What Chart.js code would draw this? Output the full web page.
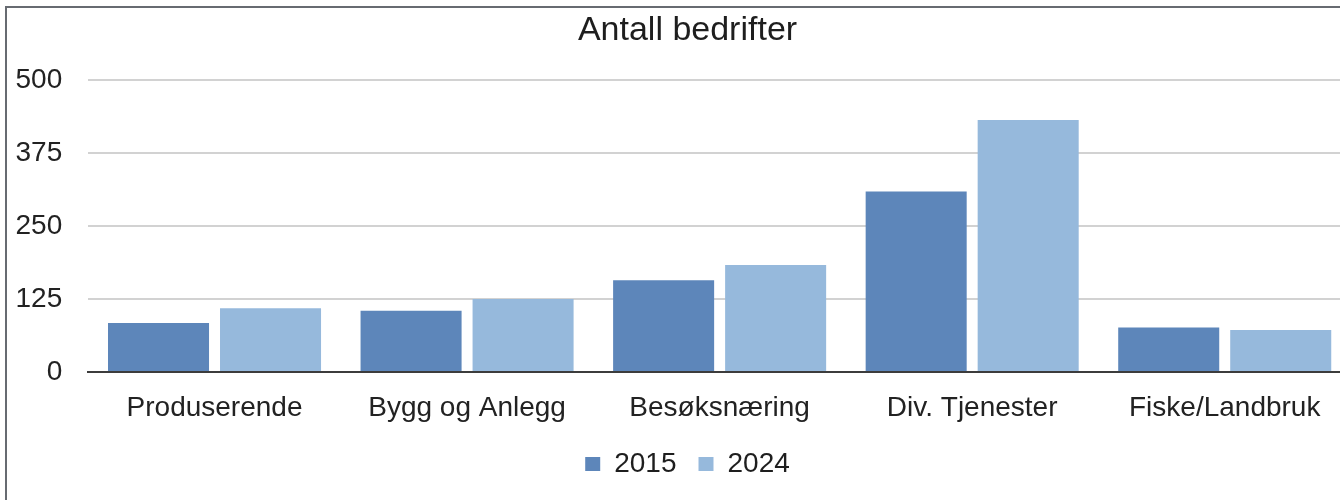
<!DOCTYPE html>
<html>
<head>
<meta charset="utf-8">
<script src="https://cdn.jsdelivr.net/npm/chart.js@4/dist/chart.umd.min.js"></script>
<style>
  html, body { margin: 0; padding: 0; background: #ffffff; overflow: hidden; width: 1340px; height: 500px; }
  #wrap { position: absolute; left: 0; top: 0; width: 1375px; height: 500px; }
  #frame { position: absolute; left: 5px; top: 6px; width: 2000px; height: 2000px;
           border-left: 2px solid #676b71; border-top: 2px solid #676b71; pointer-events: none; z-index: 2; }
  canvas { position: absolute; left: 0; top: 0; }
</style>
</head>
<body>
<div id="wrap">
  <canvas id="c" width="1375" height="500" style="width:1375px;height:500px"></canvas>
</div>
<div id="frame"></div>
<script>
const categories = ["Produserende", "Bygg og Anlegg", "Besøksnæring", "Div. Tjenester", "Fiske/Landbruk"];
const seriesNames = ["2015", "2024"];
const values2015 = [84, 105, 157, 309, 76];
const values2024 = [109, 125, 183, 431, 72];
const yTicks = [0, 125, 250, 375, 500];
const chartTitle = "Antall bedrifter";

const FONT = "'Liberation Sans', Arial, sans-serif";

new Chart(document.getElementById('c'), {
  type: 'bar',
  data: {
    labels: categories,
    datasets: [
      { label: seriesNames[0], data: values2015, backgroundColor: '#5d86ba', borderWidth: 0,
        categoryPercentage: 0.887, barPercentage: 0.902 },
      { label: seriesNames[1], data: values2024, backgroundColor: '#96b9dc', borderWidth: 0,
        categoryPercentage: 0.887, barPercentage: 0.902 }
    ]
  },
  options: {
    responsive: false,
    animation: false,
    devicePixelRatio: 1,
    layout: { padding: { left: 0, right: 0, top: 0, bottom: 12 } },
    plugins: {
      tooltip: { enabled: false },
      title: {
        display: true,
        text: chartTitle,
        color: '#1e1e1e',
        font: { family: FONT, size: 34, weight: 'normal' },
        padding: { top: 10, bottom: 29 }
      },
      legend: {
        display: true,
        position: 'bottom',
        labels: {
          color: '#1e1e1e',
          font: { family: FONT, size: 28 },
          boxWidth: 15,
          boxHeight: 14,
          padding: 22
        }
      }
    },
    scales: {
      x: {
        afterFit: (scale) => { scale.height = 56; },
        grid: { display: false, drawTicks: false },
        border: { display: true, color: '#3c3c3c', width: 2 },
        ticks: { color: '#222222', font: { family: FONT, size: 28 }, padding: 19, maxRotation: 0, autoSkip: false }
      },
      y: {
        min: 0,
        max: 500,
        afterFit: (scale) => { scale.width = 88.25; },
        afterBuildTicks: (scale) => { scale.ticks = yTicks.map(v => ({ value: v })); },
        grid: {
          drawTicks: false,
          lineWidth: 2,
          color: (ctx) => (ctx.tick && ctx.tick.value === 0) ? '#3c3c3c' : '#d2d2d2'
        },
        border: { display: false },
        ticks: { color: '#222222', font: { family: FONT, size: 28 }, padding: 26 }
      },
      yRight: {
        type: 'linear',
        position: 'right',
        display: true,
        afterFit: (scale) => { scale.width = 24; },
        grid: { display: false, drawTicks: false },
        border: { display: false },
        ticks: { display: false }
      }
    }
  }
});
</script>
</body>
</html>
